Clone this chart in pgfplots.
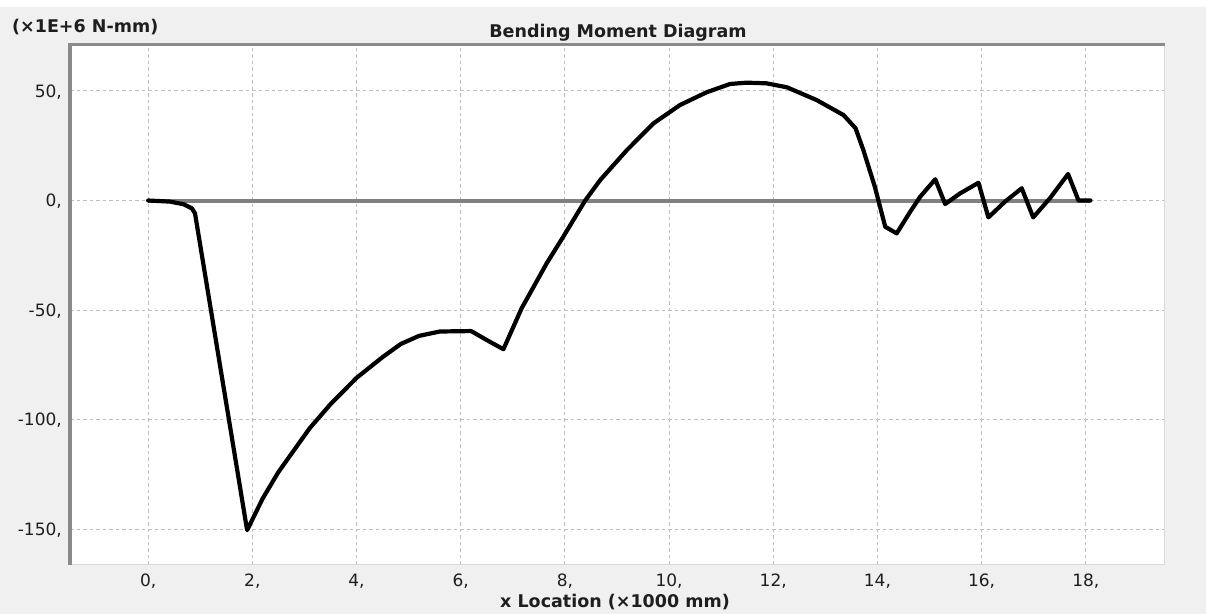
\documentclass[border=0pt]{standalone}
\usepackage{pgfplots}
\pgfplotsset{compat=1.18}
\usepackage{fontspec}
\setmainfont{DejaVu Sans}
\definecolor{bg}{HTML}{F0F0F0}
\definecolor{framec}{HTML}{8A8A8A}
\definecolor{gridc}{HTML}{BEBEBE}
\definecolor{zeroc}{HTML}{808080}
\definecolor{txt}{HTML}{1E1E1E}
\begin{document}
\begin{tikzpicture}
\fill[bg] (0bp,0bp) rectangle (1206bp,614bp);
\fill[white] (0bp,607bp) rectangle (1206bp,614bp);
\useasboundingbox (0bp,0bp) rectangle (1206bp,614bp);
\begin{axis}[
 at={(70bp,49bp)}, anchor=south west,
 scale only axis, width=1095bp, height=520bp,
 xmin=-1.5, xmax=19.52, ymin=-166.4, ymax=71,
 axis line style={draw=none},
 axis background/.style={fill=white},
 clip=false,
 xtick={0,2,4,6,8,10,12,14,16,18},
 xticklabels={{0,},{2,},{4,},{6,},{8,},{10,},{12,},{14,},{16,},{18,}},
 ytick={-150,-100,-50,0,50},
 yticklabels={{-150,},{-100,},{-50,},{0,},{50,}},
 major tick length=0pt,
 grid=major,
 grid style={gridc, line width=1bp, dash pattern=on 3.5bp off 3bp},
 ticklabel style={font=\fontsize{17bp}{20bp}\selectfont, text=txt, inner sep=0pt},
 xticklabel style={anchor=base, yshift=-22bp},
 yticklabel style={anchor=base east, xshift=-8bp, yshift=-6.2bp},
]
\addplot[zeroc, line width=4bp] coordinates {(0,0) (18.09,0)};
\addplot[black, line width=4.2bp, line join=round, line cap=round] coordinates {
(0,0) (0.42,-0.5) (0.68,-1.7) (0.84,-3.6) (0.9,-5.9)
(1.9,-150.5)
(2.2,-136) (2.5,-124) (2.8,-114) (3.1,-104) (3.5,-93) (4.0,-81) (4.5,-71.5)
(4.85,-65.5) (5.2,-61.8) (5.6,-59.8) (6.2,-59.6) (6.56,-64.5) (6.82,-67.9)
(7.17,-49.2) (7.40,-39.4) (7.65,-28.7) (7.97,-16.5) (8.39,0) (8.68,9.4)
(9.19,23) (9.70,35.2) (10.21,43.6) (10.72,49.4) (11.17,53.2) (11.49,53.8)
(11.87,53.5) (12.26,51.7) (12.83,45.9) (13.35,39) (13.58,33)
(13.73,23) (13.95,6.3) (14.15,-12) (14.37,-15) (14.63,-5.1) (14.82,1.7)
(15.11,9.7) (15.30,-1.6) (15.59,3.3) (15.94,8.1) (16.13,-7.7) (16.45,-0.5)
(16.77,5.6) (16.99,-7.7) (17.31,1) (17.66,12.1) (17.86,0) (18.09,0)
};
\draw[line width=1bp, black!15] (rel axis cs:1,1) -- (rel axis cs:1,0) -- (rel axis cs:0,0);
\draw[line width=3bp, framec] (rel axis cs:0,0) -- (rel axis cs:0,1) -- (rel axis cs:1,1);
\end{axis}
\node[anchor=base, font=\fontsize{17.5bp}{21bp}\selectfont\bfseries, text=txt] at (618bp,576bp) {Bending Moment Diagram};
\node[anchor=base west, inner sep=0pt, font=\fontsize{17.5bp}{21bp}\selectfont\bfseries, text=txt] at (12bp,581bp) {(×1E+6 N-mm)};
\node[anchor=base, inner sep=0pt, font=\fontsize{17.5bp}{21bp}\selectfont\bfseries, text=txt] at (615bp,7bp) {x Location (×1000 mm)};
\end{tikzpicture}
\end{document}
